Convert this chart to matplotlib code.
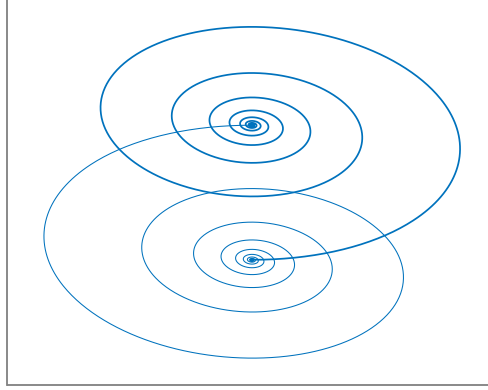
import numpy as np
import matplotlib.pyplot as plt

# two tilted logarithmic spirals, each one starting at the other's eye
TOP_EYE = [0.0, 0.675]
BOTTOM_EYE = [0.0, -0.675]
SEMI_AXES = [2.07, 1.15]      # horizontal / vertical half-size of the unit turn
SHEAR = 0.12                  # tilt of the spiral plane
TURN_RATIO = 0.53             # size ratio between successive turns
N_TURNS = 14

BLUE = "#0072BD"


def spiral(eye, flip):
    k = -np.log(TURN_RATIO) / (2 * np.pi)
    phi = np.linspace(-np.pi / 2, N_TURNS * 2 * np.pi, 6000)
    r = np.exp(-k * phi)
    dx = SEMI_AXES[0] * r * np.cos(phi)
    dy = SEMI_AXES[1] * r * np.sin(phi) - SHEAR * r * np.cos(phi)
    s = -1 if flip else 1
    return eye[0] + s * dx, eye[1] + s * dy


fig = plt.figure(figsize=(4.89, 3.90), dpi=100)
ax = fig.add_axes([7.5 / 489, 5 / 390, 481.5 / 489, 385 / 390])

x, y = spiral(TOP_EYE, False)
ax.plot(x, y, color=BLUE, lw=1.25)
x, y = spiral(BOTTOM_EYE, True)
ax.plot(x, y, color=BLUE, lw=0.75)

ax.set_xlim(-2.445, 2.37)
ax.set_ylim(-1.925, 1.925)
ax.set_xticks([])
ax.set_yticks([])
for side in ("top", "right"):
    ax.spines[side].set_visible(False)
for side in ("left", "bottom"):
    ax.spines[side].set_color("#808080")
    ax.spines[side].set_linewidth(1.3)

fig.savefig("out.png", dpi=100)
plt.close(fig)
